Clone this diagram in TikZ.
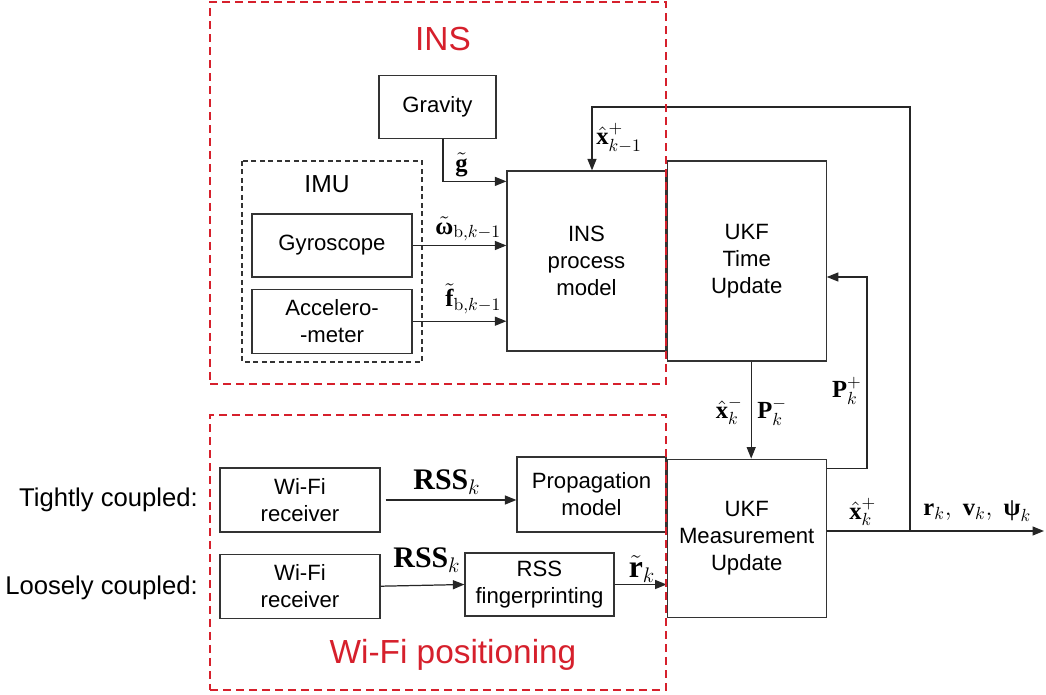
\documentclass[tikz,border=0pt]{standalone}
\usepackage{amsmath}
\usepackage[no-math]{fontspec}
\setmainfont{Liberation Sans}
\newfontfamily\serifbf{Liberation Serif}
\newcommand{\tvec}[1]{\text{\serifbf\bfseries #1}}
\usetikzlibrary{arrows.meta,positioning}
\definecolor{insred}{RGB}{214,32,44}

\begin{document}
\begin{tikzpicture}[
  x=0.02cm, y=-0.02cm,
  font=\fontsize{12.6}{15.4}\selectfont,
  box/.style={draw=black!80, line width=0.7pt, align=center, inner sep=0pt},
  region/.style={draw=insred, line width=1.1pt, dash pattern=on 1.6mm off 1mm, inner sep=0pt},
  imubox/.style={draw=black!80, line width=0.6pt, dash pattern=on 1mm off 0.7mm},
  arr/.style={-{Triangle[length=2.3mm,width=1.8mm]}, line width=0.7pt, draw=black!85},
  sig/.style={inner sep=0pt, font=\fontsize{14}{16}\selectfont},
  rss/.style={font=\fontsize{17}{19}\selectfont},
  title/.style={text=insred, font=\fontsize{19}{22}\selectfont},
  side/.style={anchor=east, font=\fontsize{14.6}{17}\selectfont}
]
\useasboundingbox (0,0) rectangle (1046,695);

% INS part
\node[box, minimum width=2.34cm, minimum height=1.26cm] (grav) at (437.5,107) {Gravity};
\draw[imubox] (242,161) rectangle (422,362);
\node[font=\fontsize{14}{16}\selectfont] (imutitle) at (327,184) {IMU};
\node[box, minimum width=3.2cm, minimum height=1.26cm] (gyro) at (332,245.5) {Gyroscope};
\node[box, minimum width=3.2cm, minimum height=1.28cm] (accel) [below=0.22cm of gyro] {Accelero-\\-meter};
\node[box, minimum width=3.18cm, minimum height=3.6cm] (proc) at (586.5,261) {INS\\process\\model};

% UKF
\node[box, minimum width=3.18cm, minimum height=4cm] (tu) [right=0pt of proc] {UKF\\Time\\Update};
\node[box, minimum width=3.18cm, minimum height=3.16cm] (mu) [below=1.94cm of tu] {UKF\\Measurement\\Update};

% Wi-Fi part
\node[box, minimum width=3.2cm, minimum height=1.28cm] (rx1) at (300,500) {Wi-Fi\\receiver};
\node[box, minimum width=3.2cm, minimum height=1.28cm] (rx2) [below=0.42cm of rx1] {Wi-Fi\\receiver};
\node[box, minimum width=2.98cm, minimum height=1.5cm] (prop) at (591.5,494.5) {Propagation\\model};
\node[box, minimum width=2.98cm, minimum height=1.26cm] (fp) at (539.5,584.5) {RSS\\fingerprinting};

\node[side] (tight) at (204,500) {Tightly coupled:};
\node[side] (loose) at (204,588) {Loosely coupled:};

% signal labels
\node[sig, anchor=west] (glbl) at (455,165) {$\tilde{\tvec{g}}$};
\node[sig, anchor=west] (wlbl) at (435,229) {$\tilde{\tvec{ω}}_{\mathrm{b},k-1}$};
\node[sig, anchor=west] (flbl) at (445,299) {$\tilde{\tvec{f}}_{\mathrm{b},k-1}$};
\node[sig, anchor=west] (xprev) at (596,138) {$\hat{\tvec{x}}^{+}_{k-1}$};
\node[sig, anchor=east] (xminus) at (743,411) {$\hat{\tvec{x}}^{-}_{k}$};
\node[sig, anchor=west] (pminus) at (757,412) {$\tvec{P}^{-}_{k}$};
\node[sig, anchor=east] (pplus) at (862,391) {$\tvec{P}^{+}_{k}$};
\node[sig, anchor=west] (xplus) at (849,512) {$\hat{\tvec{x}}^{+}_{k}$};
\node[sig, anchor=west] (state) at (923,511) {$\tvec{r}_k,\ \tvec{v}_k,\ \tvec{ψ}_k$};
\node[rss] (rss1) at (447,482) {{\serifbf\bfseries RSS}$_k$};
\node[rss] (rss2) at (427,560) {{\serifbf\bfseries RSS}$_k$};
\node[font=\fontsize{18}{20}\selectfont] (rtilde) at (642,569) {$\tilde{\tvec{r}}_k$};

% connectors
\coordinate (tap) at (910,531);
\coordinate (fbk) at (592,107);
\coordinate (pk) at (867,277);
\coordinate (out) at (1044,531);

\draw[arr] ([xshift=0.11cm]grav.south) |- ([yshift=-0.22cm]proc.north west);
\draw[arr] (gyro.east) -- (gyro.east -| proc.west);
\draw[arr] (accel.east) -- (accel.east -| proc.west);
\draw[arr] (tap) |- (fbk) -- (fbk |- proc.north);
\draw[arr] ([xshift=0.09cm]tu.south) -- ([xshift=0.09cm]mu.north);
\draw[arr] ([yshift=-0.2cm]mu.north east) -| (pk) -- (pk -| tu.east);
\draw[arr] (mu.east |- tap) -- (out);
\draw[arr] ([xshift=0.1cm]rx1.east) -- (rx1.east -| prop.west);
\draw[arr] (rx2.east) -- (fp.west);
\draw[arr] (fp.east) -- (fp.east -| mu.west);

% red groups on top
\node[region, minimum width=9.12cm, minimum height=7.64cm] (insgroup) at (438,193) {};
\node[region, minimum width=9.12cm, minimum height=5.5cm] (wifigroup) at (438,552.5) {};
\node[title] (institle) at (443,39) {INS};
\node[title] (wifititle) at (453,655) {Wi-Fi positioning};
\end{tikzpicture}
\end{document}
